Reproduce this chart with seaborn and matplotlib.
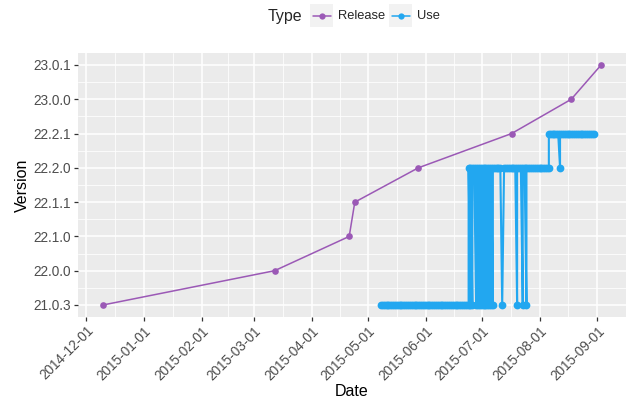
import pandas as pd
import matplotlib
matplotlib.use("Agg")
import matplotlib.pyplot as plt
import matplotlib.dates as mdates
from matplotlib.patches import Rectangle
from matplotlib.lines import Line2D
import seaborn as sns

# version levels, bottom to top
versions = ["21.0.3", "22.0.0", "22.1.0", "22.1.1", "22.2.0", "22.2.1", "23.0.0", "23.0.1"]

# release dates of each version
release_dates = ["2014-12-10", "2015-03-12", "2015-04-21", "2015-04-24",
                 "2015-05-28", "2015-07-17", "2015-08-18", "2015-09-03"]
release_versions = ["21.0.3", "22.0.0", "22.1.0", "22.1.1",
                    "22.2.0", "22.2.1", "23.0.0", "23.0.1"]

# days (2015) on which each version was in use
use_2103_days = [
    "05-08", "05-09", "05-10", "05-11", "05-12", "05-13", "05-14", "05-15",
    "05-16", "05-17", "05-18", "05-19", "05-20", "05-21", "05-22", "05-23",
    "05-24", "05-25", "05-26", "05-27", "05-28", "05-29", "05-30", "05-31",
    "06-01", "06-02", "06-03", "06-04", "06-05", "06-06", "06-07", "06-08",
    "06-09", "06-10", "06-11", "06-12", "06-13", "06-14", "06-15", "06-16",
    "06-17", "06-18", "06-19", "06-20", "06-21", "06-22", "06-23", "06-24",
    "06-25", "06-26", "06-28", "06-29", "06-30",
    "07-01", "07-02", "07-03", "07-04", "07-05", "07-06", "07-07",
    "07-12", "07-20", "07-23", "07-25",
]
use_2220_days = [
    "06-24", "06-25", "06-26", "06-27", "06-28", "06-29", "06-30",
    "07-01", "07-02", "07-03", "07-04", "07-05", "07-06", "07-07", "07-08",
    "07-09", "07-10", "07-11", "07-13", "07-14", "07-15", "07-16", "07-17",
    "07-18", "07-19", "07-20", "07-21", "07-22", "07-23", "07-24", "07-25",
    "07-26", "07-27", "07-28", "07-29", "07-30", "07-31",
    "08-01", "08-02", "08-03", "08-04", "08-05", "08-06", "08-12",
]
use_2221_days = [
    "08-06", "08-07", "08-08", "08-09", "08-10", "08-11", "08-12", "08-13",
    "08-14", "08-15", "08-16", "08-17", "08-18", "08-19", "08-20", "08-21",
    "08-22", "08-23", "08-24", "08-25", "08-26", "08-27", "08-28", "08-29",
    "08-30",
]

colors = {"Release": "#9B59B6", "Use": "#22A7F0"}

sns.set_theme(style="darkgrid", rc={
    "axes.facecolor": "#EBEBEB",
    "figure.facecolor": "white",
    "grid.color": "white",
    "axes.edgecolor": "#EBEBEB",
})
plt.rcParams["font.family"] = ["Liberation Sans", "DejaVu Sans"]

level = {v: i + 1 for i, v in enumerate(versions)}

release = pd.DataFrame({"Date": pd.to_datetime(release_dates),
                        "Version": release_versions})
use_parts = []
for ver, days in [("21.0.3", use_2103_days), ("22.2.0", use_2220_days),
                  ("22.2.1", use_2221_days)]:
    use_parts.append(pd.DataFrame({"Date": pd.to_datetime(["2015-" + d for d in days]),
                                   "Version": ver}))
use = pd.concat(use_parts, ignore_index=True)
release["Level"] = release["Version"].map(level)
use["Level"] = use["Version"].map(level)

fig = plt.figure(figsize=(6.26, 4.0), dpi=100)
ax = fig.add_axes([78 / 626, 83 / 400, 548 / 626, 264 / 400])

sns.lineplot(data=release, x="Date", y="Level", estimator=None, color=colors["Release"],
             marker="o", markersize=4.8, markeredgewidth=0, linewidth=1.1, ax=ax)
sns.lineplot(data=use, x="Date", y="Level", estimator=None, color=colors["Use"],
             marker="o", markersize=5.6, markeredgewidth=0, linewidth=1.5, ax=ax)

ax.margins(x=0.05, y=0.05)
ax.set_yticks(range(1, len(versions) + 1))
ax.set_yticklabels(versions)
ax.set_yticks([i + 0.5 for i in range(1, len(versions))], minor=True)

ax.xaxis.set_major_locator(mdates.MonthLocator(bymonthday=1))
ax.xaxis.set_major_formatter(mdates.DateFormatter("%Y-%m-%d"))
majors = ax.get_xticks()
ax.xaxis.set_minor_locator(matplotlib.ticker.FixedLocator(
    [(a + b) / 2 for a, b in zip(majors[:-1], majors[1:])]))

ax.grid(which="major", color="white", linewidth=1.1)
ax.grid(which="minor", color="white", linewidth=0.55)
for s in ax.spines.values():
    s.set_visible(False)
ax.tick_params(axis="both", which="major", length=2.8, width=0.9, color="#333333",
               labelcolor="#4D4D4D", labelsize=9.8, pad=2, bottom=True, left=True)
ax.tick_params(axis="both", which="minor", length=0)
plt.setp(ax.get_xticklabels(), rotation=45, ha="right", rotation_mode="anchor")

ax.set_xlabel("Date", fontsize=11.5, color="black", va="center")
ax.xaxis.set_label_coords(0.5, -(391 - 317) / 264)
ax.set_ylabel("Version", fontsize=11.5, color="black", va="center")
ax.yaxis.set_label_coords(-(78 - 22) / 548, 0.5)

# legend on top, ggplot style
fig.text(268 / 626, 1 - 16 / 400, "Type", fontsize=11.5, va="center", ha="left")
for x0, name in [(310, "Release"), (389, "Use")]:
    fig.patches.append(Rectangle((x0 / 626, 1 - 27 / 400), 23 / 626, 23 / 400,
                                 transform=fig.transFigure, facecolor="#F2F2F2",
                                 edgecolor="none"))
    fig.lines.append(Line2D([(x0 + 3) / 626, (x0 + 21) / 626], [1 - 16 / 400] * 2,
                            transform=fig.transFigure, color=colors[name], linewidth=1.1))
    fig.lines.append(Line2D([(x0 + 11.5) / 626], [1 - 16 / 400], transform=fig.transFigure,
                            color=colors[name], marker="o", markersize=4.5,
                            markeredgewidth=0))
    fig.text((x0 + 28) / 626, 1 - 16 / 400, name, fontsize=9.3, va="center", ha="left")

fig.savefig("out.png", dpi=100)
